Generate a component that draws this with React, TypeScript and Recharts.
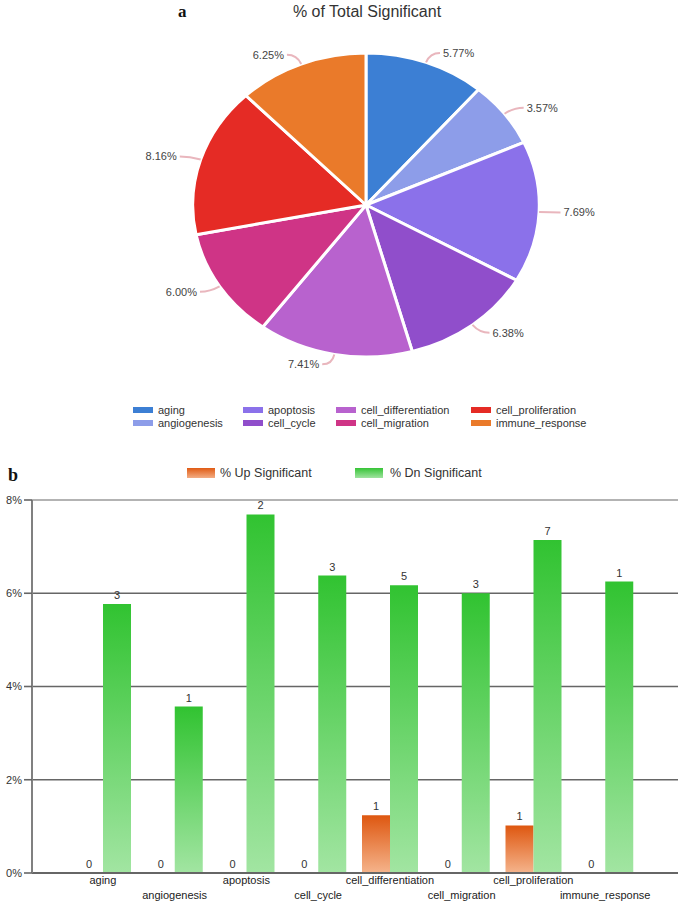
import React from 'react';
import {
  PieChart, Pie, Cell, Legend, BarChart, Bar, XAxis, YAxis,
  CartesianGrid, LabelList, ReferenceLine,
} from 'recharts';

// ---------- data ----------
const categories = [
  'aging', 'angiogenesis', 'apoptosis', 'cell_cycle',
  'cell_differentiation', 'cell_migration', 'cell_proliferation', 'immune_response',
];
const totalPct = [5.77, 3.57, 7.69, 6.38, 7.41, 6.0, 8.16, 6.25];
const upPct = [0, 0, 0, 0, 1.24, 0, 1.02, 0];
const dnPct = [5.77, 3.57, 7.69, 6.38, 6.17, 6.0, 7.14, 6.25];
const upCount = [0, 0, 0, 0, 1, 0, 1, 0];
const dnCount = [3, 1, 2, 3, 5, 3, 7, 1];
const pieColors = ['#3c7fd4', '#8d9de9', '#8b71ea', '#904ecb', '#b862ce', '#cf3486', '#e52b25', '#ea7a2a'];
const yTicks = [0, 2, 4, 6, 8];
const pieTitle = '% of Total Significant';
const upName = '% Up Significant';
const dnName = '% Dn Significant';

const pieData = categories.map((name, i) => ({ name, value: totalPct[i] }));
const barData = categories.map((name, i) => ({
  name, up: upPct[i], dn: dnPct[i], upCount: upCount[i], dnCount: dnCount[i],
}));

const FONT = '"Liberation Sans", Arial, sans-serif';
const STRETCH = 1.14;
const RAD = Math.PI / 180;

const ellPt = (cx: number, cy: number, r: number, a: number) => ({
  x: cx + r * STRETCH * Math.cos(-a * RAD),
  y: cy + r * Math.sin(-a * RAD),
});

const EllipseSector = (p: any) => {
  const { cx, cy, outerRadius, startAngle, endAngle, fill } = p;
  const s = ellPt(cx, cy, outerRadius, startAngle);
  const e = ellPt(cx, cy, outerRadius, endAngle);
  const large = Math.abs(endAngle - startAngle) > 180 ? 1 : 0;
  const sweep = startAngle > endAngle ? 1 : 0;
  return (
    <path
      d={`M${cx},${cy} L${s.x},${s.y} A${outerRadius * STRETCH},${outerRadius} 0 ${large} ${sweep} ${e.x},${e.y} Z`}
      fill={fill}
      stroke="#fff"
      strokeWidth={3}
      strokeLinejoin="round"
    />
  );
};

const renderPieLabel = (p: any) => {
  const { cx, cy, midAngle, outerRadius, value } = p;
  const a = ellPt(cx, cy, outerRadius, midAngle);
  const b = ellPt(cx, cy, outerRadius + 10, midAngle);
  const right = b.x >= cx;
  const c = { x: b.x + (right ? 10 : -10), y: b.y };
  return (
    <g>
      <path d={`M${a.x},${a.y} Q${b.x},${b.y} ${c.x},${c.y}`} stroke="#e9b6bd" strokeWidth={2} fill="none" />
      <text x={c.x + (right ? 3 : -3)} y={c.y} dy="0.35em" textAnchor={right ? 'start' : 'end'}
        fontSize={11} fill="#444" fontFamily={FONT}>
        {`${Number(value).toFixed(2)}%`}
      </text>
    </g>
  );
};

const pieLegendCols = [133, 243, 336, 471];
const renderPieLegend = (props: any) => {
  const payload = props.payload || [];
  return (
    <div style={{ position: 'relative', width: 685, height: 28, fontFamily: FONT }}>
      {payload.map((item: any, i: number) => {
        const col = Math.floor(i / 2);
        const row = i % 2;
        return (
          <div key={i} style={{
            position: 'absolute', left: pieLegendCols[col], top: row * 12.6, height: 12,
            display: 'flex', alignItems: 'center', fontSize: 11, color: '#333', whiteSpace: 'nowrap',
          }}>
            <span style={{ display: 'inline-block', width: 20, height: 6, background: item.color, marginRight: 5 }} />
            <span>{item.value}</span>
          </div>
        );
      })}
    </div>
  );
};

const barLegendItems = [
  { name: upName, grad: 'linear-gradient(#e05b14, #f3ad84)', left: 187, gap: 5 },
  { name: dnName, grad: 'linear-gradient(#36c436, #9fe39f)', left: 355, gap: 7 },
];
const renderBarLegend = () => (
  <div style={{ position: 'relative', width: 685, height: 14, fontFamily: FONT }}>
    {barLegendItems.map((item, i) => (
      <div key={i} style={{
        position: 'absolute', left: item.left, top: 0, height: 14,
        display: 'flex', alignItems: 'center', fontSize: 12.5, color: '#333', whiteSpace: 'nowrap',
      }}>
        <span style={{ display: 'inline-block', width: 28, height: 10, marginRight: item.gap, background: item.grad }} />
        <span>{item.name}</span>
      </div>
    ))}
  </div>
);

const BarTopLabel = (p: any) => {
  const { x, y, width, value } = p;
  if (x == null || y == null) return null;
  return (
    <text x={Number(x) + Number(width) / 2} y={Number(y) - 5} textAnchor="middle" fontSize={11}
      fill="#333" fontFamily={FONT}>
      {String(value)}
    </text>
  );
};

const StaggerTick = (p: any) => {
  const { x, y, payload, index } = p;
  const off = index % 2 === 0 ? 7 : 22;
  return (
    <text x={x} y={y + off} dy="0.35em" textAnchor="middle" fontSize={11} fill="#222" fontFamily={FONT}>
      {payload.value}
    </text>
  );
};

export default function App() {
  return (
    <div style={{ position: 'absolute', left: 0, top: 0, width: 685, height: 901, background: '#fff', overflow: 'hidden' }}>
      <div style={{ position: 'absolute', left: 0, top: 0, width: 685, height: 440 }}>
        <PieChart width={685} height={440} margin={{ top: 0, right: 0, bottom: 0, left: 0 }}>
          <Pie
            data={pieData}
            dataKey="value"
            nameKey="name"
            cx={366}
            cy={205}
            outerRadius={152}
            startAngle={90}
            endAngle={-270}
            stroke="#fff"
            shape={EllipseSector}
            label={renderPieLabel}
            labelLine={false}
            isAnimationActive={false}
          >
            {pieData.map((d, i) => <Cell key={d.name} fill={pieColors[i]} />)}
          </Pie>
          <Legend verticalAlign="middle" align="center" layout="horizontal" content={renderPieLegend}
            wrapperStyle={{ top: 404, left: 0, width: 685 }} />
        </PieChart>
      </div>
      <div style={{ position: 'absolute', left: 0, top: 3, width: 734, textAlign: 'center', fontFamily: FONT, fontSize: 16, color: '#333' }}>
        {pieTitle}
      </div>
      <div style={{ position: 'absolute', left: 178, top: 2, fontFamily: '"Liberation Serif", "Times New Roman", serif', fontWeight: 'bold', fontSize: 17, color: '#111' }}>a</div>
      <div style={{ position: 'absolute', left: 8, top: 465, fontFamily: '"Liberation Serif", "Times New Roman", serif', fontWeight: 'bold', fontSize: 18, color: '#111' }}>b</div>

      <div style={{ position: 'absolute', left: 0, top: 440, width: 685, height: 461 }}>
        <BarChart width={685} height={461} data={barData} margin={{ top: 60, right: 7, left: 0, bottom: 0 }} barGap={0}>
          <defs>
            <linearGradient id="gOrange" x1="0" y1="0" x2="0" y2="1">
              <stop offset="0%" stopColor="#de5710" />
              <stop offset="100%" stopColor="#f5b48c" />
            </linearGradient>
            <linearGradient id="gGreen" x1="0" y1="0" x2="0" y2="1">
              <stop offset="0%" stopColor="#31c331" />
              <stop offset="100%" stopColor="#a2e5a2" />
            </linearGradient>
          </defs>
          <CartesianGrid vertical={false} stroke="#666" strokeWidth={1.6} />
          <XAxis dataKey="name" interval={0} tick={<StaggerTick />} tickLine={false} tickSize={0} tickMargin={0}
            axisLine={{ stroke: '#666', strokeWidth: 2 }} padding={{ left: 35, right: 37 }} height={28} />
          <YAxis domain={[0, 8]} ticks={yTicks} tickFormatter={(v: number) => `${v}%`} width={32} tickSize={8}
            axisLine={{ stroke: '#808080', strokeWidth: 2 }} tickLine={{ stroke: '#666', strokeWidth: 1.6 }}
            tick={{ fontSize: 11, fill: '#333', fontFamily: FONT }} />
          <ReferenceLine y={8} stroke="#b3b3b3" strokeWidth={2} />
          <Legend verticalAlign="middle" align="center" layout="horizontal" content={renderBarLegend}
            wrapperStyle={{ top: 26, left: 0, width: 685 }} />
          <Bar dataKey="up" name={upName} fill="url(#gOrange)" barSize={28} minPointSize={0.01} isAnimationActive={false}>
            <LabelList dataKey="upCount" content={BarTopLabel} />
          </Bar>
          <Bar dataKey="dn" name={dnName} fill="url(#gGreen)" barSize={28} isAnimationActive={false}>
            <LabelList dataKey="dnCount" content={BarTopLabel} />
          </Bar>
        </BarChart>
      </div>
    </div>
  );
}
